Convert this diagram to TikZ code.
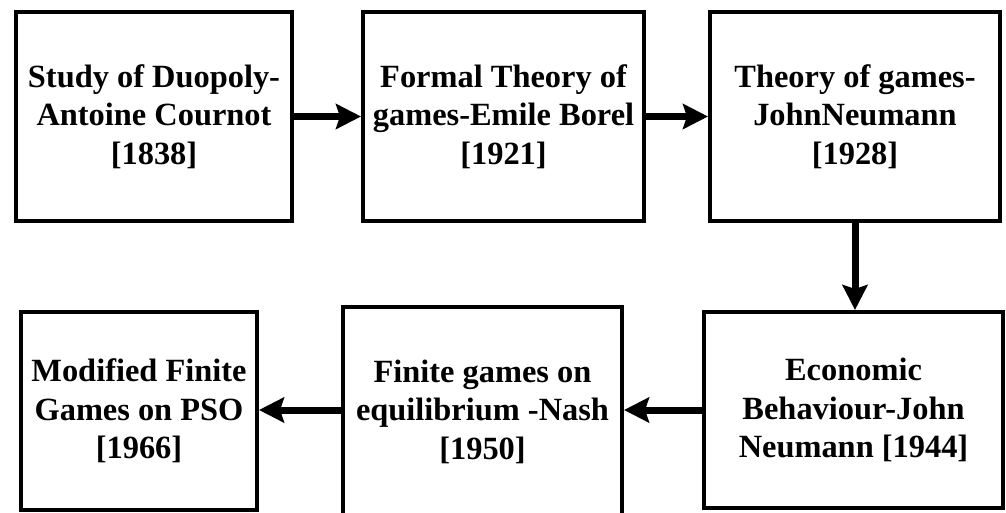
\documentclass[tikz,border=0pt]{standalone}
\usepackage{fontspec}
\setmainfont{Liberation Serif}
\usetikzlibrary{arrows.meta}
\begin{document}
\begin{tikzpicture}[x=1pt,y=-1pt,
  box/.style={draw=black, line width=4pt, fill=white, rectangle, align=center,
    inner sep=0pt, font=\bfseries\fontsize{32.4}{38.5}\selectfont},
  conn/.style={line width=7pt, line cap=round, -{Stealth[length=25pt,width=25pt,inset=4pt]}}]
\useasboundingbox[fill=white] (0,0) rectangle (1006,513);
\node[box, minimum width=276pt, minimum height=209pt] (b1) at (154,116.5)
  {Study of Duopoly-\\Antoine Cournot\\{[}1838{]}};
\node[box, minimum width=281pt, minimum height=209pt] (b2) at (503.5,116.5)
  {Formal Theory of\\games-Emile Borel\\{[}1921{]}};
\node[box, minimum width=290pt, minimum height=209pt] (b3) at (855,116.5)
  {Theory of games-\\JohnNeumann\\{[}1928{]}};
\node[box, minimum width=236pt, minimum height=198pt] (b4) at (139,411)
  {Modified Finite\\Games on PSO\\{[}1966{]}};
\node[box, minimum width=279pt, minimum height=209pt] (b5) at (482.5,411.5)
  {Finite games on\\equilibrium -Nash\\{[}1950{]}};
\node[box, minimum width=299pt, minimum height=196pt] (b6) at (853.5,410)
  {Economic\\Behaviour-John\\Neumann {[}1944{]}};
\draw[conn] (b1.east) -- (b2.west);
\draw[conn] (b2.east) -- (b3.west);
\draw[conn] (b3.south) -- (b3.south |- b6.north);
\draw[conn] (b6.west) -- (b5.east |- b6.west);
\draw[conn] (b5.west |- b6.west) -- (b4.east |- b6.west);
\end{tikzpicture}
\end{document}
